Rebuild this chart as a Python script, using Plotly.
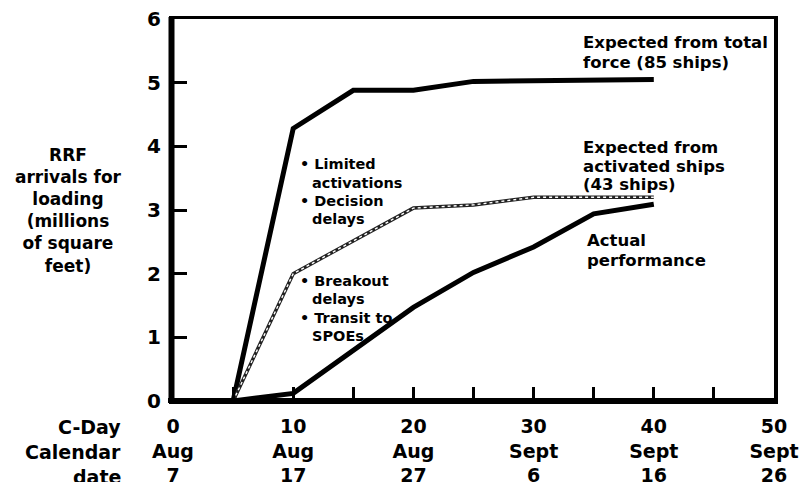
import plotly.graph_objects as go

# ---------------- data ----------------
total_x = [5, 10, 15, 20, 25, 40]
total_y = [0.0, 4.28, 4.88, 4.88, 5.02, 5.05]

activated_x = [5, 10, 20, 25, 30, 40]
activated_y = [0.0, 2.0, 3.03, 3.08, 3.2, 3.2]

actual_x = [5, 10, 20, 25, 30, 35, 40]
actual_y = [0.0, 0.12, 1.47, 2.02, 2.42, 2.94, 3.09]

x_tickvals = [0, 5, 10, 15, 20, 25, 30, 35, 40, 45, 50]
cday_labels = ["0", "", "10", "", "20", "", "30", "", "40", "", "50"]
month_labels = ["Aug", "", "Aug", "", "Aug", "", "Sept", "", "Sept", "", "Sept"]
daynum_labels = ["7", "", "17", "", "27", "", "6", "", "16", "", "26"]
y_tickvals = [0, 1, 2, 3, 4, 5, 6]

row_titles = ["C-Day", "Calendar", "date"]
y_title_lines = ["RRF", "arrivals for", "loading", "(millions", "of square", "feet)"]
# ---------------------------------------

W, H = 812, 482
PL, PT, PW, PH = 173, 19, 601, 382   # plot area in window pixels
L, T = PL, PT
R, B = W - L - PW, H - T - PH

def px(x):
    return (x - PL) / PW

def py(y):
    return (PT + PH - y) / PH

FONT = "DejaVu Sans"
ticktext = [
    (f"{c}<br>{m}<br>{d}" if c else "")
    for c, m, d in zip(cday_labels, month_labels, daynum_labels)
]

fig = go.Figure()
fig.add_trace(go.Scatter(x=total_x, y=total_y, mode="lines",
                         line=dict(color="black", width=5), showlegend=False))
fig.add_trace(go.Scatter(x=activated_x, y=activated_y, mode="lines",
                         line=dict(color="#222", width=3.5), showlegend=False))
fig.add_trace(go.Scatter(x=activated_x, y=activated_y, mode="lines",
                         line=dict(color="white", width=1.4, dash="dot"), showlegend=False))
fig.add_trace(go.Scatter(x=actual_x, y=actual_y, mode="lines",
                         line=dict(color="black", width=5), showlegend=False))

fig.update_xaxes(range=[0, 50], tickvals=x_tickvals, ticktext=ticktext,
                 ticks="inside", ticklen=14, tickwidth=3, tickcolor="black",
                 showgrid=False, zeroline=False,
                 showline=True, linewidth=3, linecolor="black", mirror=True,
                 automargin=False, ticklabeloverflow="allow",
                 tickfont=dict(family=FONT, size=19, color="black", weight="bold"),
                 ticklabelstandoff=6)
fig.update_yaxes(range=[0, 6], tickvals=y_tickvals,
                 ticks="inside", ticklen=14, tickwidth=3, tickcolor="black",
                 showgrid=False, zeroline=False,
                 showline=True, linewidth=4, linecolor="black", mirror=True,
                 automargin=False, ticklabeloverflow="allow",
                 tickfont=dict(family=FONT, size=20, color="black", weight="bold"),
                 ticklabelstandoff=4)

# heavier left and bottom frame edges
fig.add_shape(type="line", xref="paper", yref="paper", x0=px(171.5), x1=px(171.5),
              y0=py(403), y1=py(17), line=dict(color="black", width=6))
fig.add_shape(type="line", xref="paper", yref="paper", x0=px(168), x1=px(777),
              y0=py(400.5), y1=py(400.5), line=dict(color="black", width=5))

def ann(text, x, y, size, xanchor="left", align="left"):
    fig.add_annotation(text=text, x=px(x), y=py(y), xref="paper", yref="paper",
                       xanchor=xanchor, yanchor="middle", showarrow=False, align=align,
                       font=dict(family=FONT, size=size, color="black", weight="bold"))

# y title (one multi-line text)
ann("<br>".join(y_title_lines), 69, 210, 17, "center", "center")

# row titles
for t, yy in zip(row_titles, [427, 452, 477]):
    ann(t, 123, yy, 19, "right")

# series labels
ann("Expected from total", 581, 43, 16.5)
ann("force (85 ships)", 581, 62, 16.5)
ann("Expected from", 581, 147, 16.5)
ann("activated ships", 581, 166, 16.5)
ann("(43 ships)", 581, 185, 16.5)
ann("Actual", 585, 240, 16.5)
ann("performance", 585, 260, 16.5)

# bullet notes
ann("• Limited", 298, 164, 14.5)
ann("activations", 310, 183, 14.5)
ann("• Decision", 298, 201, 14.5)
ann("delays", 310, 219, 14.5)
ann("• Breakout", 298, 281, 14.5)
ann("delays", 310, 299, 14.5)
ann("• Transit to", 298, 318, 14.5)
ann("SPOEs", 310, 336, 14.5)

fig.update_layout(width=W, height=H, margin=dict(l=L, r=R, t=T, b=B),
                  plot_bgcolor="white", paper_bgcolor="white")
fig.write_html("out.html", config={"displayModeBar": False},
               post_script="document.body.style.margin='0';document.body.style.overflow='hidden';")
